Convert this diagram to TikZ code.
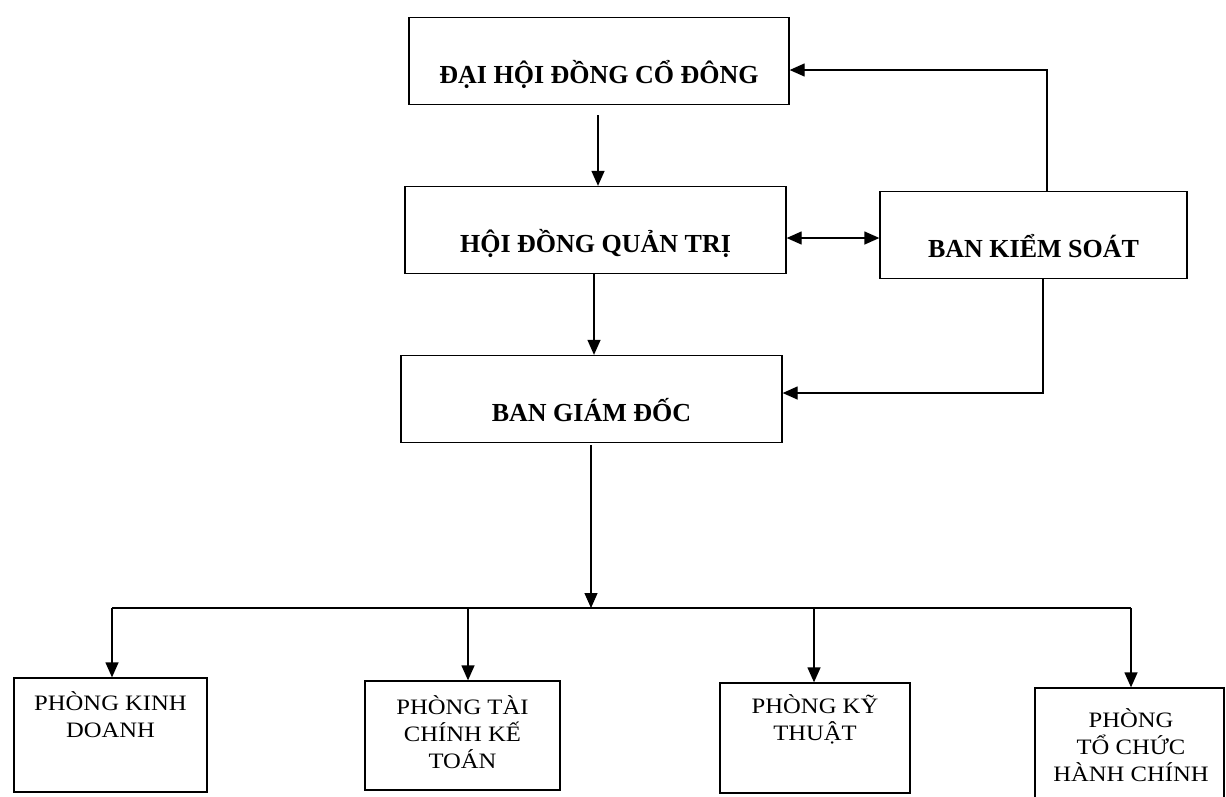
\documentclass[tikz,border=0pt]{standalone}
\usepackage{fontspec}
\setmainfont{Liberation Serif}
\newfontfamily\subfont[FakeStretch=1.12]{Liberation Serif}
\usetikzlibrary{arrows.meta}
\begin{document}
\begin{tikzpicture}[x=1pt,y=-1pt,
  line width=1.3pt,
  arr/.style={-{Triangle[length=15pt,width=13pt]}},
  darr/.style={{Triangle[length=15pt,width=13pt]}-{Triangle[length=15pt,width=13pt]}},
  topbox/.style={draw, inner xsep=0pt, inner ysep=0pt, text height=66pt, text depth=21pt, font=\fontsize{26}{30}\selectfont\bfseries},
  subbox/.style={draw, inner sep=0pt},
  subtext/.style={anchor=north, inner sep=0pt, align=center, font=\subfont\fontsize{22}{27}\selectfont}]
\useasboundingbox (0,0) rectangle (1226,796);
\clip (0,0) rectangle (1226,796);
\fill[white] (0,0) rectangle (1226,796);
% upper boxes
\node[topbox, minimum width=380pt] (dh)  at (599,61)    {ĐẠI HỘI ĐỒNG CỔ ĐÔNG};
\node[topbox, minimum width=381pt] (hd)  at (595.5,230) {HỘI ĐỒNG QUẢN TRỊ};
\node[topbox, minimum width=307pt] (bks) at (1033.5,235) {BAN KIỂM SOÁT};
\node[topbox, minimum width=381pt] (bgd) at (591.5,399) {BAN GIÁM ĐỐC};
% lower boxes
\node[subbox, minimum width=193pt, minimum height=114pt] (pkd)  at (110.5,735)  {};
\node[subbox, minimum width=195pt, minimum height=109pt] (ptc)  at (462.5,735.5) {};
\node[subbox, minimum width=190pt, minimum height=110pt] (pkt)  at (815,738)    {};
\node[subbox, minimum width=189pt, minimum height=116pt] (ptch) at (1129.5,746) {};
\node[subtext] (pkdT)  at (110.5,691) {PHÒNG KINH\\DOANH};
\node[subtext] (ptcT)  at (462.5,695) {PHÒNG TÀI\\CHÍNH KẾ\\TOÁN};
\node[subtext] (pktT)  at (815,694)   {PHÒNG KỸ\\THUẬT};
\node[subtext] (ptchT) at (1131,708)  {PHÒNG\\TỔ CHỨC\\HÀNH CHÍNH};
% connectors
\coordinate (a1) at (598,115);
\draw[arr] (a1) -- (a1 |- hd.north);
\coordinate (a2) at (594,0);
\draw[arr] (a2 |- hd.south) -- (a2 |- bgd.north);
\coordinate (a3) at (0,238);
\draw[darr] (hd.east |- a3) -- (bks.west |- a3);
\coordinate (a4) at (1047,70);
\draw[arr] (a4 |- bks.north) -- (a4) -- (dh.east |- a4);
\coordinate (a5) at (1043,393);
\draw[arr] (a5 |- bks.south) -- (a5) -- (bgd.east |- a5);
\coordinate (a6) at (591,445);
\coordinate (d1) at (112,608);
\coordinate (d2) at (468,608);
\coordinate (d3) at (814,608);
\coordinate (d4) at (1131,608);
\draw[arr] (a6) -- (a6 |- d1);
\draw (d1) -- (d4);
\draw[arr] (d1) -- (d1 |- pkd.north);
\draw[arr] (d2) -- (d2 |- ptc.north);
\draw[arr] (d3) -- (d3 |- pkt.north);
\draw[arr] (d4) -- (d4 |- ptch.north);
\end{tikzpicture}
\end{document}
